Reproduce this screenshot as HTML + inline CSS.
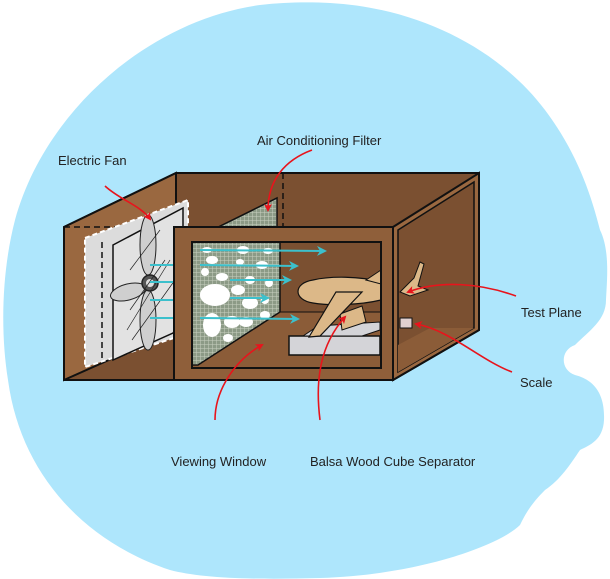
<!DOCTYPE html>
<html><head><style>
html,body{margin:0;padding:0;background:#fff;}
svg{display:block;}
text{font-family:"Liberation Sans",sans-serif;font-size:13px;fill:#222;}
</style></head><body>
<svg width="610" height="579" viewBox="0 0 610 579" xmlns="http://www.w3.org/2000/svg">
<defs>
<pattern id="mesh" width="4" height="4" patternUnits="userSpaceOnUse">
<rect width="4" height="4" fill="#8c9a86"/>
<path d="M0 0H4M0 0V4" stroke="#c8d0c0" stroke-width="1"/>
</pattern>
<marker id="ar" markerWidth="8" markerHeight="8" refX="6" refY="4" orient="auto" markerUnits="userSpaceOnUse">
<path d="M0 0L8 4L0 8L2 4Z" fill="#e8141c"/>
</marker>
<marker id="ab" markerWidth="10" markerHeight="10" refX="8" refY="5" orient="auto" markerUnits="userSpaceOnUse">
<path d="M0 0L10 5L0 10L3 5Z" fill="#3cc0cc"/>
</marker>
</defs>
<path fill="#aee6fc" d="M330 3 C420 8 500 50 545 110 C575 150 590 190 600 230 C610 250 607 280 606 300 C606 320 590 330 575 345 C560 350 560 370 575 375 C595 380 605 395 604 420 C603 440 590 445 580 450 C570 465 560 480 545 490 C530 505 525 515 520 525 C500 545 420 575 320 578 C250 580 200 578 170 570 C80 540 20 470 8 380 C0 330 2 270 15 220 C45 110 150 20 260 5 C285 2 310 2 330 3Z"/>
<polygon points="64,227 176,173 479,173 479,330 393,380 64,380" fill="#7b5031" stroke="#111" stroke-width="2"/>
<polygon points="64,227 176,173 176,330 64,380" fill="#9a6840" stroke="#111" stroke-width="2"/>
<line x1="176" y1="173" x2="176" y2="330" stroke="#111" stroke-width="1.5" stroke-dasharray="6,4"/>
<line x1="64" y1="227" x2="176" y2="227" stroke="#111" stroke-width="1.5" stroke-dasharray="6,4"/>
<line x1="64" y1="380" x2="176" y2="330" stroke="#111" stroke-width="1.5" stroke-dasharray="6,4"/>
<line x1="283" y1="173" x2="283" y2="240" stroke="#111" stroke-width="1.5" stroke-dasharray="6,4"/>
<polygon points="200,236 277,198 277,240 200,240" fill="url(#mesh)" stroke="#111" stroke-width="1.5"/>
<polygon points="393,227 479,173 479,330 393,380" fill="#9a6840" stroke="#111" stroke-width="2"/>
<polygon points="398,230 474,182 474,328 398,372" fill="#7b5031" stroke="#111" stroke-width="1.5"/>
<polygon points="398,372 474,328 430,328 398,345" fill="#8b5c38"/>
<polygon points="85,238 188,200 188,330 177,337 85,367" fill="#dcdcdc" stroke="#fff" stroke-width="2" stroke-dasharray="5,3"/>
<polygon points="113,245 183,208 183,320 173,333 113,360" fill="#e2e2e2" stroke="#111" stroke-width="1.5"/>
<line x1="102" y1="242" x2="102" y2="362" stroke="#111" stroke-width="1.5" stroke-dasharray="6,4"/>
<ellipse cx="148" cy="245" rx="8" ry="30" fill="#cfcfcf" stroke="#222"/>
<ellipse cx="148" cy="320" rx="8" ry="30" fill="#cfcfcf" stroke="#222"/>
<ellipse cx="128" cy="292" rx="18" ry="8" fill="#cfcfcf" stroke="#222" transform="rotate(-15 128 292)"/>
<circle cx="150" cy="283" r="8" fill="#555" stroke="#222" stroke-width="1.5"/>
<circle cx="150" cy="283" r="4" fill="#ddd"/>
<g stroke="#222" stroke-width="0.7"><line x1="130" y1="270" x2="160" y2="230"/><line x1="127" y1="330" x2="170" y2="260"/><line x1="132" y1="340" x2="175" y2="280"/><line x1="130" y1="310" x2="165" y2="260"/></g>
<g stroke="#3cc0cc" stroke-width="2"><line x1="150" y1="265" x2="174" y2="265"/><line x1="150" y1="282" x2="174" y2="282"/><line x1="150" y1="300" x2="174" y2="300"/><line x1="150" y1="318" x2="174" y2="318"/></g>
<path d="M174 227H393V380H174Z M192 242V368H381V242Z" fill="#8f5f3a" fill-rule="evenodd" stroke="#111" stroke-width="2"/>
<rect x="192" y="242" width="189" height="126" fill="#7b5031"/>
<polygon points="192,368 192,355 280,312 381,312 381,368" fill="#8b5c38"/>
<polygon points="192,242 280,242 280,312 198,365 192,365" fill="url(#mesh)" stroke="#111" stroke-width="1.5"/>
<line x1="280" y1="312" x2="381" y2="312" stroke="#111" stroke-width="1"/>
<g fill="#fff">
<ellipse cx="207" cy="250" rx="5" ry="3"/><ellipse cx="243" cy="250" rx="6" ry="4"/><ellipse cx="268" cy="251" rx="5" ry="3"/>
<ellipse cx="212" cy="260" rx="6" ry="4"/><ellipse cx="240" cy="262" rx="4" ry="3"/><ellipse cx="262" cy="265" rx="6" ry="4"/>
<ellipse cx="205" cy="272" rx="4" ry="4"/><ellipse cx="222" cy="277" rx="6" ry="4"/><ellipse cx="250" cy="280" rx="5" ry="4"/><ellipse cx="269" cy="283" rx="4" ry="4"/>
<ellipse cx="215" cy="295" rx="15" ry="11"/><ellipse cx="238" cy="290" rx="7" ry="5"/><ellipse cx="250" cy="303" rx="8" ry="6"/><ellipse cx="265" cy="300" rx="4" ry="4"/>
<ellipse cx="212" cy="325" rx="9" ry="12"/><ellipse cx="232" cy="322" rx="8" ry="6"/><ellipse cx="246" cy="322" rx="7" ry="5"/><ellipse cx="265" cy="315" rx="5" ry="4"/><ellipse cx="228" cy="338" rx="5" ry="4"/>
</g>
<g stroke="#3cc0cc" stroke-width="2" fill="none">
<line x1="200" y1="250" x2="325" y2="251" marker-end="url(#ab)"/>
<line x1="200" y1="265" x2="297" y2="266" marker-end="url(#ab)"/>
<line x1="230" y1="280" x2="290" y2="280" marker-end="url(#ab)"/>
<line x1="230" y1="298" x2="268" y2="298" marker-end="url(#ab)"/>
<line x1="200" y1="318" x2="298" y2="319" marker-end="url(#ab)"/>
</g>
<rect x="289" y="336" width="91" height="19" fill="#d4d4d8" stroke="#111" stroke-width="1.5"/>
<polygon points="303,336 318,326 380,322 380,330 362,336" fill="#d4d4d8" stroke="#111"/>
<rect x="400" y="318" width="12" height="10" fill="#e0d0d0" stroke="#111"/>
<path d="M313 280 C330 276 360 276 381 282 L381 300 C360 305 330 306 313 303 C293 300 293 283 313 280Z" fill="#dcb888" stroke="#111" stroke-width="1.2"/>
<polygon points="366,280 381,270 381,284" fill="#dcb888" stroke="#111"/>
<polygon points="340,314 362,306 366,322 342,330" fill="#dcb888" stroke="#111"/>
<polygon points="309,337 336,292 362,292 320,336" fill="#dcb888" stroke="#111" stroke-width="1.2"/>
<polygon points="400,292 414,278 420,262 424,264 418,286 428,290 410,296" fill="#dcb888" stroke="#111"/>
<rect x="192" y="242" width="189" height="126" fill="none" stroke="#111" stroke-width="2"/>
<g stroke="#e8141c" stroke-width="1.6" fill="none">
<path d="M105 186 C120 200 140 205 150 219" marker-end="url(#ar)"/>
<path d="M312 150 C285 160 268 180 268 210" marker-end="url(#ar)"/>
<path d="M516 296 C480 283 440 280 408 292" marker-end="url(#ar)"/>
<path d="M512 372 C480 360 450 330 416 324" marker-end="url(#ar)"/>
<path d="M215 420 C215 390 235 360 262 345" marker-end="url(#ar)"/>
<path d="M320 420 C315 380 320 345 345 317" marker-end="url(#ar)"/>
</g>
<text x="58" y="165">Electric Fan</text>
<text x="257" y="145">Air Conditioning Filter</text>
<text x="521" y="317">Test Plane</text>
<text x="520" y="387">Scale</text>
<text x="171" y="466">Viewing Window</text>
<text x="310" y="466">Balsa Wood Cube Separator</text>
</svg>
</body></html>
